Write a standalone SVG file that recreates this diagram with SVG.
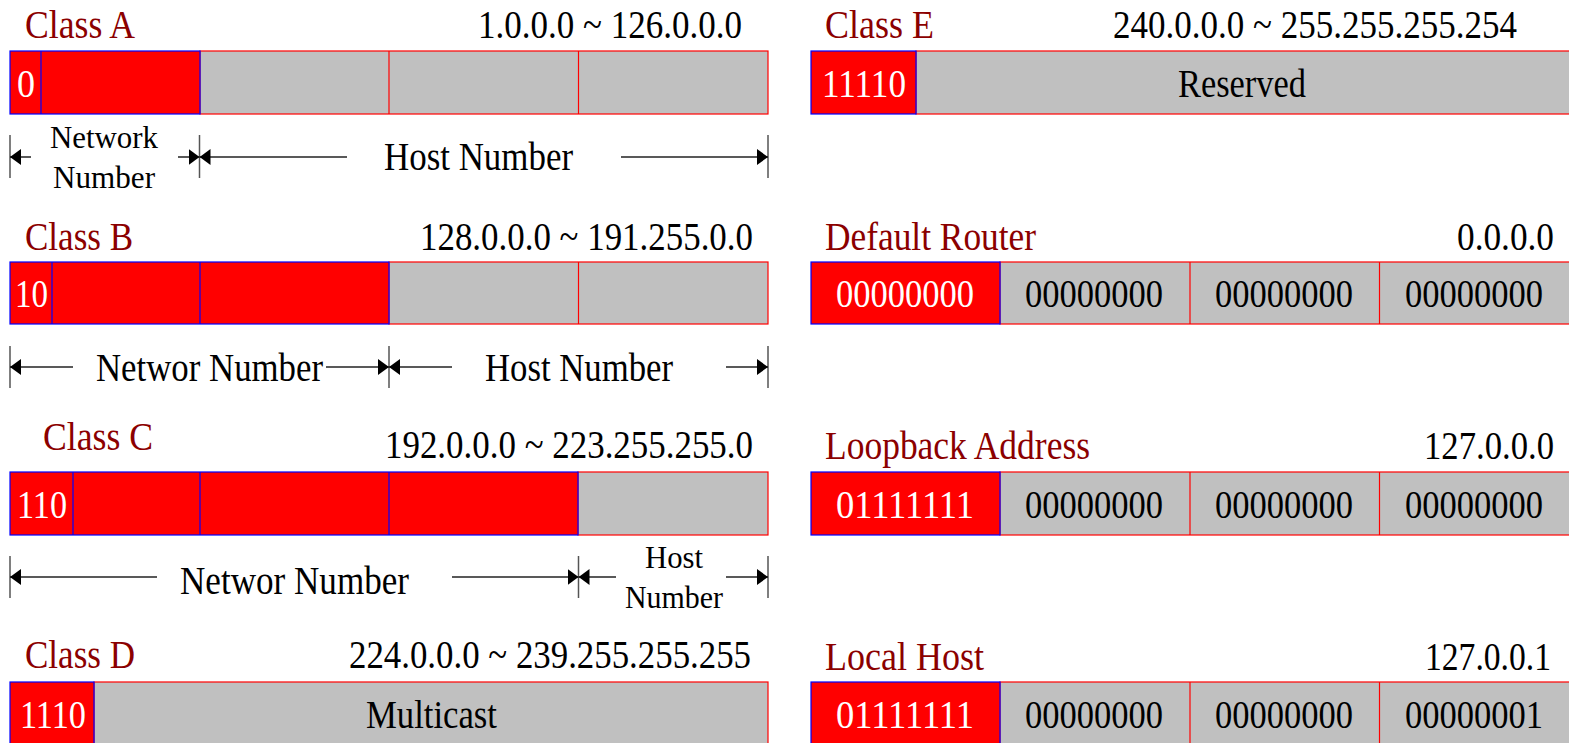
<svg xmlns="http://www.w3.org/2000/svg" width="1569" height="743" viewBox="0 0 1569 743">
<style>
text{font-family:"Liberation Serif","DejaVu Serif",serif;}
.t{fill:#8b0000;font-size:40px;}
.r{fill:#000;font-size:40px;}
.w{fill:#fff;font-size:40px;}
.b{fill:#000;font-size:40px;}
.s{fill:#000;font-size:32px;}
.red{fill:#ff0000;stroke:#0000ff;stroke-width:1.2;}
.grey{fill:#c0c0c0;stroke:#ff0000;stroke-width:1.2;}
.dvb{stroke:#0000ff;stroke-width:1.2;}
.dvr{stroke:#ff0000;stroke-width:1.2;}
.tick{stroke:#555;stroke-width:1.5;}
.dim{stroke:#222;stroke-width:1.5;fill:none;marker-end:url(#ah);}
</style>
<defs>
<marker id="ah" markerUnits="userSpaceOnUse" viewBox="0 0 11 16" refX="11" refY="8" markerWidth="11" markerHeight="16" orient="auto">
<path d="M0,0 L11,8 L0,16 z" fill="#000"/>
</marker>
</defs>
<rect width="1569" height="743" fill="#fff"/>

<g id="classA">
<text class="t" x="25" y="38" textLength="110" lengthAdjust="spacingAndGlyphs">Class A</text>
<text class="r" x="478" y="38" textLength="264" lengthAdjust="spacingAndGlyphs">1.0.0.0 ~ 126.0.0.0</text>
<rect class="grey" x="200" y="51" width="568" height="63"/>
<rect class="red" x="10" y="51" width="190" height="63"/>
<line class="dvb" x1="41" y1="51" x2="41" y2="114"/>
<line class="dvr" x1="389" y1="51" x2="389" y2="114"/>
<line class="dvr" x1="578.5" y1="51" x2="578.5" y2="114"/>
<text class="w" x="17" y="97" textLength="18" lengthAdjust="spacingAndGlyphs">0</text>
<text class="s" x="50" y="148" textLength="108" lengthAdjust="spacingAndGlyphs">Network</text>
<text class="s" x="53" y="188" textLength="102" lengthAdjust="spacingAndGlyphs">Number</text>
<text class="b" x="384" y="170" textLength="189" lengthAdjust="spacingAndGlyphs">Host Number</text>
</g>

<g id="classB">
<text class="t" x="25" y="250" textLength="108" lengthAdjust="spacingAndGlyphs">Class B</text>
<text class="r" x="420" y="250" textLength="333" lengthAdjust="spacingAndGlyphs">128.0.0.0 ~ 191.255.0.0</text>
<rect class="grey" x="389" y="262" width="379" height="62"/>
<rect class="red" x="10" y="262" width="379" height="62"/>
<line class="dvb" x1="52" y1="262" x2="52" y2="324"/>
<line class="dvb" x1="200" y1="262" x2="200" y2="324"/>
<line class="dvr" x1="578.5" y1="262" x2="578.5" y2="324"/>
<text class="w" x="15" y="307" textLength="33" lengthAdjust="spacingAndGlyphs">10</text>
<text class="b" x="96" y="381" textLength="227" lengthAdjust="spacingAndGlyphs">Networ Number</text>
<text class="b" x="485" y="381" textLength="188" lengthAdjust="spacingAndGlyphs">Host Number</text>
</g>

<g id="classC">
<text class="t" x="43" y="450" textLength="110" lengthAdjust="spacingAndGlyphs">Class C</text>
<text class="r" x="385" y="458" textLength="368" lengthAdjust="spacingAndGlyphs">192.0.0.0 ~ 223.255.255.0</text>
<rect class="grey" x="578" y="472" width="190" height="63"/>
<rect class="red" x="10" y="472" width="568" height="63"/>
<line class="dvb" x1="73" y1="472" x2="73" y2="535"/>
<line class="dvb" x1="200" y1="472" x2="200" y2="535"/>
<line class="dvb" x1="389" y1="472" x2="389" y2="535"/>
<text class="w" x="17" y="518" textLength="50" lengthAdjust="spacingAndGlyphs">110</text>
<text class="b" x="180" y="594" textLength="229" lengthAdjust="spacingAndGlyphs">Networ Number</text>
<text class="s" x="645" y="568" textLength="58" lengthAdjust="spacingAndGlyphs">Host</text>
<text class="s" x="625" y="608" textLength="98" lengthAdjust="spacingAndGlyphs">Number</text>
</g>

<g id="classD">
<text class="t" x="25" y="668" textLength="110" lengthAdjust="spacingAndGlyphs">Class D</text>
<text class="r" x="349" y="668" textLength="402" lengthAdjust="spacingAndGlyphs">224.0.0.0 ~ 239.255.255.255</text>
<rect class="grey" x="94" y="682" width="674" height="70"/>
<rect class="red" x="10" y="682" width="84" height="70"/>
<text class="w" x="20" y="728" textLength="66" lengthAdjust="spacingAndGlyphs">1110</text>
<text class="b" x="366" y="728" textLength="131" lengthAdjust="spacingAndGlyphs">Multicast</text>
</g>

<g id="classE">
<text class="t" x="825" y="38" textLength="109" lengthAdjust="spacingAndGlyphs">Class E</text>
<text class="r" x="1113" y="38" textLength="404" lengthAdjust="spacingAndGlyphs">240.0.0.0 ~ 255.255.255.254</text>
<rect class="grey" x="916" y="51" width="660" height="63"/>
<rect class="red" x="811" y="51" width="105" height="63"/>
<text class="w" x="822" y="97" textLength="84" lengthAdjust="spacingAndGlyphs">11110</text>
<text class="b" x="1178" y="97" textLength="128" lengthAdjust="spacingAndGlyphs">Reserved</text>
</g>

<g id="defaultRouter">
<text class="t" x="825" y="250" textLength="211" lengthAdjust="spacingAndGlyphs">Default Router</text>
<text class="r" x="1457" y="250" textLength="97" lengthAdjust="spacingAndGlyphs">0.0.0.0</text>
<rect class="grey" x="1000" y="262" width="576" height="62"/>
<rect class="red" x="811" y="262" width="189" height="62"/>
<line class="dvr" x1="1190" y1="262" x2="1190" y2="324"/>
<line class="dvr" x1="1379.5" y1="262" x2="1379.5" y2="324"/>
<text class="w" x="836" y="307" textLength="138" lengthAdjust="spacingAndGlyphs">00000000</text>
<text class="b" x="1025" y="307" textLength="138" lengthAdjust="spacingAndGlyphs">00000000</text>
<text class="b" x="1215" y="307" textLength="138" lengthAdjust="spacingAndGlyphs">00000000</text>
<text class="b" x="1405" y="307" textLength="138" lengthAdjust="spacingAndGlyphs">00000000</text>
</g>

<g id="loopback">
<text class="t" x="825" y="459" textLength="265" lengthAdjust="spacingAndGlyphs">Loopback Address</text>
<text class="r" x="1424" y="459" textLength="130" lengthAdjust="spacingAndGlyphs">127.0.0.0</text>
<rect class="grey" x="1000" y="472" width="576" height="63"/>
<rect class="red" x="811" y="472" width="189" height="63"/>
<line class="dvr" x1="1190" y1="472" x2="1190" y2="535"/>
<line class="dvr" x1="1379.5" y1="472" x2="1379.5" y2="535"/>
<text class="w" x="836" y="518" textLength="138" lengthAdjust="spacingAndGlyphs">01111111</text>
<text class="b" x="1025" y="518" textLength="138" lengthAdjust="spacingAndGlyphs">00000000</text>
<text class="b" x="1215" y="518" textLength="138" lengthAdjust="spacingAndGlyphs">00000000</text>
<text class="b" x="1405" y="518" textLength="138" lengthAdjust="spacingAndGlyphs">00000000</text>
</g>

<g id="localHost">
<text class="t" x="825" y="670" textLength="159" lengthAdjust="spacingAndGlyphs">Local Host</text>
<text class="r" x="1425" y="670" textLength="126" lengthAdjust="spacingAndGlyphs">127.0.0.1</text>
<rect class="grey" x="1000" y="682" width="576" height="70"/>
<rect class="red" x="811" y="682" width="189" height="70"/>
<line class="dvr" x1="1190" y1="682" x2="1190" y2="750"/>
<line class="dvr" x1="1379.5" y1="682" x2="1379.5" y2="750"/>
<text class="w" x="836" y="728" textLength="138" lengthAdjust="spacingAndGlyphs">01111111</text>
<text class="b" x="1025" y="728" textLength="138" lengthAdjust="spacingAndGlyphs">00000000</text>
<text class="b" x="1215" y="728" textLength="138" lengthAdjust="spacingAndGlyphs">00000000</text>
<text class="b" x="1405" y="728" textLength="138" lengthAdjust="spacingAndGlyphs">00000001</text>
</g>

<g id="connectors">
<line class="tick" x1="10" y1="135" x2="10" y2="178"/>
<line class="tick" x1="199.5" y1="135" x2="199.5" y2="178"/>
<line class="tick" x1="768" y1="135" x2="768" y2="178"/>
<line class="dim" x1="31" y1="157" x2="10" y2="157"/>
<line class="dim" x1="178" y1="157" x2="199.5" y2="157"/>
<line class="dim" x1="347" y1="157" x2="199.5" y2="157"/>
<line class="dim" x1="621" y1="157" x2="768" y2="157"/>

<line class="tick" x1="10" y1="346" x2="10" y2="388"/>
<line class="tick" x1="389" y1="346" x2="389" y2="388"/>
<line class="tick" x1="768" y1="346" x2="768" y2="388"/>
<line class="dim" x1="73" y1="367" x2="10" y2="367"/>
<line class="dim" x1="326" y1="367" x2="389" y2="367"/>
<line class="dim" x1="452" y1="367" x2="389" y2="367"/>
<line class="dim" x1="726" y1="367" x2="768" y2="367"/>

<line class="tick" x1="10" y1="556" x2="10" y2="598"/>
<line class="tick" x1="578.5" y1="556" x2="578.5" y2="598"/>
<line class="tick" x1="768" y1="556" x2="768" y2="598"/>
<line class="dim" x1="157" y1="577" x2="10" y2="577"/>
<line class="dim" x1="452" y1="577" x2="578.5" y2="577"/>
<line class="dim" x1="616" y1="577" x2="578.5" y2="577"/>
<line class="dim" x1="726" y1="577" x2="768" y2="577"/>
</g>
</svg>
